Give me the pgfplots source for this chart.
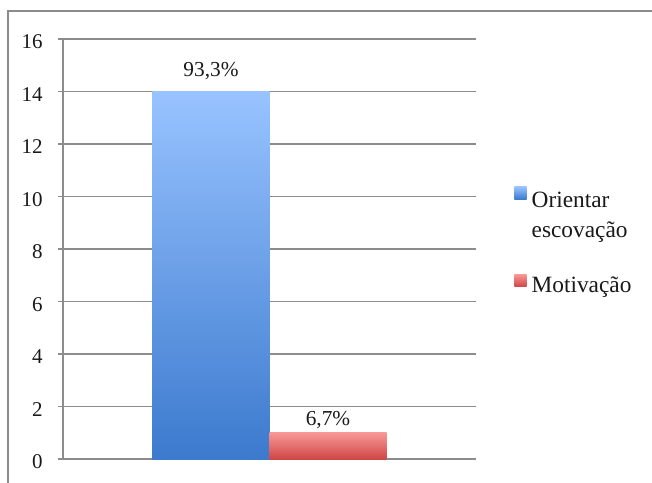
\documentclass[border=0pt]{standalone}
\usepackage{pgfplots}
\pgfplotsset{compat=1.18}
\usepackage{fontspec}
\setmainfont{Liberation Serif}

\definecolor{gridgray}{RGB}{140,140,140}
\definecolor{blueTop}{RGB}{152,195,255}
\definecolor{blueBot}{RGB}{60,122,206}
\definecolor{redTop}{RGB}{247,152,150}
\definecolor{redBot}{RGB}{208,70,70}
\definecolor{txt}{RGB}{25,25,25}

\begin{document}
\begin{tikzpicture}[x=0.75pt,y=0.75pt]
\begin{axis}[
    scale only axis,
    width=309.75pt, height=315pt,
    xmin=-1, xmax=1,
    ymin=0, ymax=16,
    xtick=\empty,
    ytick={0,2,...,16},
    axis x line*=bottom, axis y line*=left,
    axis line style={-, draw=gridgray, line width=1.1pt},
    ymajorgrids=true,
    grid style={draw=gridgray, line width=1.1pt},
    tick align=outside,
    major tick length=3.75pt,
    tick style={draw=gridgray, line width=1.1pt},
    /pgf/number format/assume math mode=true,
    yticklabel style={font=\fontsize{15.75}{18}\selectfont, text=txt,
        inner sep=0pt, anchor=east, xshift=-11.25pt, yshift=-2pt},
    ybar=0pt, bar width=87.75pt,
    legend style={draw=none, fill=none, inner sep=0pt,
        at={(1.092,0.650)}, anchor=north west,
        font=\fontsize{17.5}{22.5}\selectfont, text=txt,
        nodes={inner sep=0pt},
        row sep=48.75pt, column sep=3.75pt},
    legend cell align=left,
]
\addplot[draw=none, top color=blueTop, bottom color=blueBot,
    nodes near coords={93,3\%},
    every node near coord/.append style={anchor=base, yshift=11.25pt,
        font=\fontsize{16}{19}\selectfont, text=txt},
    legend image code/.code={\path[top color=blueTop, bottom color=blueBot]
        (0pt,-1pt) rectangle (9.3pt,8.3pt);}]
    coordinates {(0,14)};
\addlegendentry{\begin{tabular}[t]{@{}l@{}}Orientar\\escovação\end{tabular}}
\addplot[draw=none, top color=redTop, bottom color=redBot,
    nodes near coords={6,7\%},
    every node near coord/.append style={anchor=base, yshift=5.25pt,
        font=\fontsize{16}{19}\selectfont, text=txt},
    legend image code/.code={\path[top color=redTop, bottom color=redBot]
        (0pt,-1pt) rectangle (9.3pt,8.3pt);}]
    coordinates {(0,1)};
\addlegendentry{Motivação}
\coordinate (bl) at (rel axis cs:0,0);
\end{axis}
% frame of the chart area, placed from the axis corner
\draw[gridgray, line width=1.7pt] (bl) ++(-55,-30) -- ++(0,478) -- ++(700,0);
\pgfresetboundingbox
\path[use as bounding box] (bl) ++(-63,-23) rectangle ++(652,482);
\end{tikzpicture}
\end{document}
